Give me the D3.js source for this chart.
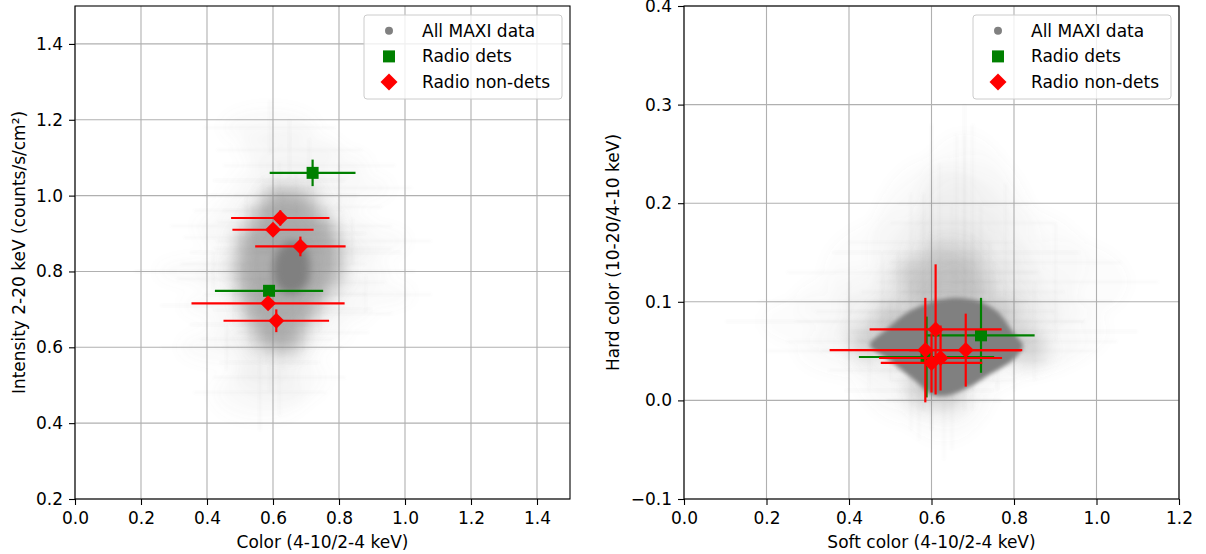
<!DOCTYPE html>
<html>
<head>
<meta charset="utf-8">
<script src="https://cdn.jsdelivr.net/npm/d3@7"></script>
<style>
  body { margin: 0; background: #fff; }
  svg text { font-family: "DejaVu Sans", sans-serif; fill: #000; }
</style>
</head>
<body>
<div id="chart"></div>
<script>
// ---- Donnees ----

// Radio dets (carres verts)
const detColor        = [0.720, 0.588];
const detColorErr     = [0.130, 0.164];
const detIntensity    = [1.060, 0.749];
const detIntensityErr = [0.035, 0.013];
const detHard         = [0.066, 0.044];
const detHardErr      = [0.038, 0.041];

// Radio non-dets (losanges rouges)
const nonColor        = [0.622, 0.600, 0.683, 0.585, 0.610];
const nonColorErr     = [0.149, 0.123, 0.137, 0.232, 0.160];
const nonIntensity    = [0.941, 0.910, 0.866, 0.716, 0.670];
const nonIntensityErr = [0.020, 0.015, 0.026, 0.012, 0.030];
const nonHard         = [0.043, 0.038, 0.051, 0.051, 0.072];
const nonHardErr      = [0.033, 0.030, 0.037, 0.053, 0.066];

// All MAXI data : contour de la zone saturee [x, y]
const maxiCoreLeft = [
  [0.600,0.810],[0.612,0.850],[0.640,0.876],[0.680,0.876],[0.706,0.848],
  [0.712,0.800],[0.700,0.762],[0.668,0.742],[0.630,0.746],[0.606,0.772]
];
const maxiCoreRight = [
  [0.450,0.056],[0.490,0.072],[0.540,0.089],[0.600,0.100],[0.660,0.104],
  [0.720,0.100],[0.765,0.088],[0.800,0.068],[0.822,0.055],[0.795,0.040],
  [0.740,0.026],[0.690,0.013],[0.640,0.005],[0.600,0.006],[0.560,0.020],[0.500,0.040]
];

// All MAXI data : zone intermediaire [x, y]
const maxiMidLeft = [
  [0.62,0.98],[0.68,0.97],
  [0.58,0.93],[0.64,0.93],[0.70,0.93],[0.74,0.91],
  [0.54,0.87],[0.60,0.87],[0.66,0.87],[0.72,0.87],[0.76,0.85],
  [0.53,0.81],[0.59,0.81],[0.65,0.81],[0.71,0.81],[0.76,0.80],
  [0.54,0.75],[0.60,0.75],[0.66,0.75],[0.72,0.75],
  [0.56,0.69],[0.62,0.69],[0.68,0.69],
  [0.59,0.64],[0.64,0.63]
];
const maxiMidRight = [
  [0.58,0.110],[0.64,0.115],[0.70,0.112],
  [0.56,0.130],[0.62,0.140],[0.68,0.135],
  [0.50,0.080],[0.76,0.085],[0.82,0.060],
  [0.44,0.058],[0.84,0.052],[0.58,0.012],[0.64,0.006]
];

// All MAXI data : points diffus avec barres d'erreur [x, xErr, y, yErr]
const maxiHaloLeft = [
  [0.52,0.16,0.96,0.04],[0.57,0.18,1.00,0.05],[0.62,0.20,1.04,0.05],[0.67,0.19,1.00,0.06],
  [0.72,0.21,0.97,0.05],[0.76,0.20,0.92,0.05],[0.50,0.17,0.89,0.04],[0.55,0.20,0.85,0.05],
  [0.58,0.15,0.93,0.04],[0.63,0.18,0.96,0.05],[0.70,0.18,0.90,0.04],[0.77,0.22,0.85,0.05],
  [0.51,0.20,0.78,0.04],[0.56,0.17,0.74,0.05],[0.74,0.20,0.77,0.05],[0.79,0.24,0.80,0.06],
  [0.48,0.22,0.71,0.05],[0.53,0.18,0.66,0.05],[0.58,0.20,0.62,0.06],[0.63,0.18,0.60,0.06],
  [0.69,0.20,0.64,0.05],[0.74,0.22,0.69,0.05],[0.59,0.15,0.56,0.08],[0.62,0.20,0.52,0.10],
  [0.56,0.20,0.48,0.10],[0.66,0.24,0.70,0.05],[0.60,0.28,0.82,0.06],[0.69,0.27,0.86,0.05],
  [0.65,0.22,1.12,0.08],[0.59,0.20,1.18,0.07],[0.71,0.26,1.08,0.07],[0.46,0.20,0.60,0.06],
  [0.84,0.24,0.88,0.06],[0.42,0.24,0.80,0.05],[0.88,0.20,0.74,0.05],[0.64,0.16,0.78,0.05],
  [0.61,0.18,0.88,0.05],[0.68,0.20,0.74,0.05],[0.54,0.25,0.92,0.05],[0.80,0.22,1.02,0.06]
];
const maxiHaloRight = [
  [0.55,0.15,0.070,0.05],[0.60,0.20,0.090,0.08],[0.65,0.18,0.100,0.10],[0.70,0.20,0.090,0.08],
  [0.75,0.22,0.080,0.06],[0.62,0.15,0.120,0.12],[0.68,0.18,0.130,0.14],[0.58,0.15,0.110,0.10],
  [0.72,0.20,0.110,0.09],[0.50,0.25,0.060,0.04],[0.45,0.25,0.050,0.04],[0.80,0.25,0.060,0.05],
  [0.85,0.25,0.070,0.05],[0.60,0.12,0.030,0.06],[0.65,0.15,0.020,0.07],[0.55,0.20,0.030,0.06],
  [0.70,0.18,0.040,0.05],[0.66,0.30,0.150,0.12],[0.62,0.35,0.080,0.05],[0.74,0.30,0.100,0.06],
  [0.60,0.20,0.160,0.12],[0.70,0.20,0.180,0.10],[0.55,0.30,0.130,0.08],[0.90,0.25,0.120,0.06],
  [0.40,0.30,0.080,0.04],[0.64,0.22,0.060,0.05],[0.58,0.25,0.050,0.06],[0.76,0.24,0.050,0.04],
  [0.52,0.20,0.090,0.06],[0.68,0.16,0.200,0.10],[0.63,0.14,0.000,0.06],[0.57,0.18,0.010,0.05],
  [0.78,0.28,0.140,0.08],[0.48,0.30,0.100,0.05]
];

// Graduations
const xTicksLeft  = [0.0, 0.2, 0.4, 0.6, 0.8, 1.0, 1.2, 1.4];
const yTicksLeft  = [0.2, 0.4, 0.6, 0.8, 1.0, 1.2, 1.4];
const xTicksRight = [0.0, 0.2, 0.4, 0.6, 0.8, 1.0, 1.2];
const yTicksRight = [-0.1, 0.0, 0.1, 0.2, 0.3, 0.4];

const legendLabels = ["All MAXI data", "Radio dets", "Radio non-dets"];

// ---- Mise en page ----
const W = 1206, H = 554;
const yTop = 6, yBottom = 499;
const grey = "#808080", green = "#008000", red = "#ff0000";
const fs = 17;

const svg = d3.select("#chart").append("svg")
  .attr("width", W).attr("height", H);

const defs = svg.append("defs");
const blur = (id, sd) => defs.append("filter").attr("id", id)
  .attr("filterUnits", "userSpaceOnUse").attr("x", 0).attr("y", 0).attr("width", W).attr("height", H)
  .append("feGaussianBlur").attr("stdDeviation", sd);
blur("blurCoreL", 4);
blur("blurCoreR", 2);
blur("blurMid", 9);
blur("blurHaze", 7);
blur("blurStreak", 0.8);

const panels = [
  {
    id: "L", left: 75, right: 570, xDom: [0, 1.5], yDom: [0.2, 1.5],
    xTicks: xTicksLeft, yTicks: yTicksLeft,
    xLabel: "Color (4-10/2-4 keV)", yLabel: "Intensity 2-20 keV (counts/s/cm²)", yLabelX: 19,
    core: maxiCoreLeft, mid: maxiMidLeft, halo: maxiHaloLeft,
    hazeOp: 0.045, midOp: 0.6, coreBlur: "blurCoreL",
    detY: detIntensity, detYErr: detIntensityErr, nonY: nonIntensity, nonYErr: nonIntensityErr
  },
  {
    id: "R", left: 684, right: 1179, xDom: [0, 1.2], yDom: [-0.1, 0.4],
    xTicks: xTicksRight, yTicks: yTicksRight,
    xLabel: "Soft color (4-10/2-4 keV)", yLabel: "Hard color (10-20/4-10 keV)", yLabelX: 613,
    core: maxiCoreRight, mid: maxiMidRight, halo: maxiHaloRight,
    hazeOp: 0.022, midOp: 0.28, coreBlur: "blurCoreR",
    detY: detHard, detYErr: detHardErr, nonY: nonHard, nonYErr: nonHardErr
  }
];

const fmt = d3.format(".1f");
const diamond = r => `M0,${-r}L${r},0L0,${r}L${-r},0Z`;

panels.forEach(p => {
  const x = d3.scaleLinear().domain(p.xDom).range([p.left, p.right]);
  const y = d3.scaleLinear().domain(p.yDom).range([yBottom, yTop]);
  const g = svg.append("g");

  // grille
  g.append("g").selectAll("line").data(p.xTicks).join("line")
    .attr("x1", d => x(d)).attr("x2", d => x(d)).attr("y1", yTop).attr("y2", yBottom)
    .attr("stroke", "#b0b0b0").attr("stroke-width", 1.1);
  g.append("g").selectAll("line").data(p.yTicks).join("line")
    .attr("x1", p.left).attr("x2", p.right).attr("y1", d => y(d)).attr("y2", d => y(d))
    .attr("stroke", "#b0b0b0").attr("stroke-width", 1.1);

  defs.append("clipPath").attr("id", "clip" + p.id)
    .append("rect").attr("x", p.left).attr("y", yTop)
    .attr("width", p.right - p.left).attr("height", yBottom - yTop);

  const cloud = g.append("g").attr("clip-path", `url(#clip${p.id})`);

  // nuage : voile suivant les barres d'erreur
  cloud.append("g").attr("filter", "url(#blurHaze)")
    .selectAll("ellipse").data(p.halo).join("ellipse")
    .attr("cx", d => x(d[0])).attr("cy", d => y(d[2]))
    .attr("rx", d => (x(d[0] + d[1]) - x(d[0])) * 0.7)
    .attr("ry", d => (y(d[2]) - y(d[2] + d[3])) * 0.7)
    .attr("fill", grey).attr("fill-opacity", p.hazeOp);

  // nuage : barres d'erreur tres claires
  const streaks = cloud.append("g").attr("filter", "url(#blurStreak)")
    .attr("stroke", grey).attr("stroke-opacity", 0.05).attr("stroke-width", 2);
  streaks.selectAll(".h").data(p.halo).join("line").attr("class", "h")
    .attr("x1", d => x(d[0] - d[1])).attr("x2", d => x(d[0] + d[1]))
    .attr("y1", d => y(d[2])).attr("y2", d => y(d[2]));
  streaks.selectAll(".v").data(p.halo).join("line").attr("class", "v")
    .attr("x1", d => x(d[0])).attr("x2", d => x(d[0]))
    .attr("y1", d => y(d[2] - d[3])).attr("y2", d => y(d[2] + d[3]));

  // nuage : zone intermediaire
  cloud.append("g").attr("filter", "url(#blurMid)").attr("opacity", p.midOp)
    .selectAll("circle").data(p.mid).join("circle")
    .attr("cx", d => x(d[0])).attr("cy", d => y(d[1])).attr("r", 16)
    .attr("fill", grey);

  // nuage : coeur sature (contour lisse)
  const outline = d3.line().x(d => x(d[0])).y(d => y(d[1])).curve(d3.curveCardinalClosed.tension(0.2));
  cloud.append("path").datum(p.core)
    .attr("d", outline).attr("fill", grey)
    .attr("filter", `url(#${p.coreBlur})`);

  // barres d'erreur + marqueurs
  const drawSeries = (xs, xe, ys, ye, color, shape) => {
    const s = g.append("g");
    const idx = d3.range(xs.length);
    s.selectAll(".eh").data(idx).join("line").attr("class", "eh")
      .attr("x1", i => x(xs[i] - xe[i])).attr("x2", i => x(xs[i] + xe[i]))
      .attr("y1", i => y(ys[i])).attr("y2", i => y(ys[i]))
      .attr("stroke", color).attr("stroke-width", 2.2);
    s.selectAll(".ev").data(idx).join("line").attr("class", "ev")
      .attr("x1", i => x(xs[i])).attr("x2", i => x(xs[i]))
      .attr("y1", i => y(ys[i] - ye[i])).attr("y2", i => y(ys[i] + ye[i]))
      .attr("stroke", color).attr("stroke-width", 2.2);
    if (shape === "square") {
      s.selectAll("rect").data(idx).join("rect")
        .attr("x", i => x(xs[i]) - 6).attr("y", i => y(ys[i]) - 6)
        .attr("width", 12).attr("height", 12).attr("fill", color);
    } else {
      s.selectAll("path").data(idx).join("path")
        .attr("transform", i => `translate(${x(xs[i])},${y(ys[i])})`)
        .attr("d", diamond(8)).attr("fill", color);
    }
  };
  drawSeries(detColor, detColorErr, p.detY, p.detYErr, green, "square");
  drawSeries(nonColor, nonColorErr, p.nonY, p.nonYErr, red, "diamond");

  // cadre
  g.append("rect").attr("x", p.left).attr("y", yTop)
    .attr("width", p.right - p.left).attr("height", yBottom - yTop)
    .attr("fill", "none").attr("stroke", "#000").attr("stroke-width", 1.1);

  // axes
  const ax = g.append("g").attr("transform", `translate(0,${yBottom})`)
    .call(d3.axisBottom(x).tickValues(p.xTicks).tickFormat(fmt).tickSize(6).tickPadding(7));
  const ay = g.append("g").attr("transform", `translate(${p.left},0)`)
    .call(d3.axisLeft(y).tickValues(p.yTicks).tickFormat(fmt).tickSize(6).tickPadding(6));
  [ax, ay].forEach(a => {
    a.select(".domain").remove();
    a.selectAll(".tick line").attr("stroke", "#000").attr("stroke-width", 1.1);
    a.selectAll(".tick text").attr("font-size", fs).attr("font-family", "DejaVu Sans").attr("fill", "#000");
  });

  // titres d'axes
  g.append("text").attr("x", (p.left + p.right) / 2).attr("y", 548)
    .attr("text-anchor", "middle").attr("font-size", fs).text(p.xLabel);
  g.append("text").attr("transform", `translate(${p.yLabelX},${(yTop + yBottom) / 2}) rotate(-90)`)
    .attr("text-anchor", "middle").attr("dominant-baseline", "central")
    .attr("font-size", fs).text(p.yLabel);

  // legende
  const lw = 198, lh = 84;
  const lg = g.append("g").attr("transform", `translate(${p.right - 8 - lw},${yTop + 9})`);
  lg.append("rect").attr("width", lw).attr("height", lh).attr("rx", 3)
    .attr("fill", "#fff").attr("fill-opacity", 0.8).attr("stroke", "#cccccc");
  const rows = lg.selectAll(".row").data(legendLabels).join("g")
    .attr("transform", (d, i) => `translate(0,${15.7 + i * 25.7})`);
  rows.append("text").attr("x", 58).attr("y", 6).attr("font-size", fs).text(d => d);
  rows.filter((d, i) => i === 0).append("circle").attr("cx", 25).attr("r", 4).attr("fill", grey);
  rows.filter((d, i) => i === 1).append("rect").attr("x", 19).attr("y", -6)
    .attr("width", 12).attr("height", 12).attr("fill", green);
  rows.filter((d, i) => i === 2).append("path").attr("transform", "translate(25,0)")
    .attr("d", diamond(8.5)).attr("fill", red);
});
</script>
</body>
</html>
